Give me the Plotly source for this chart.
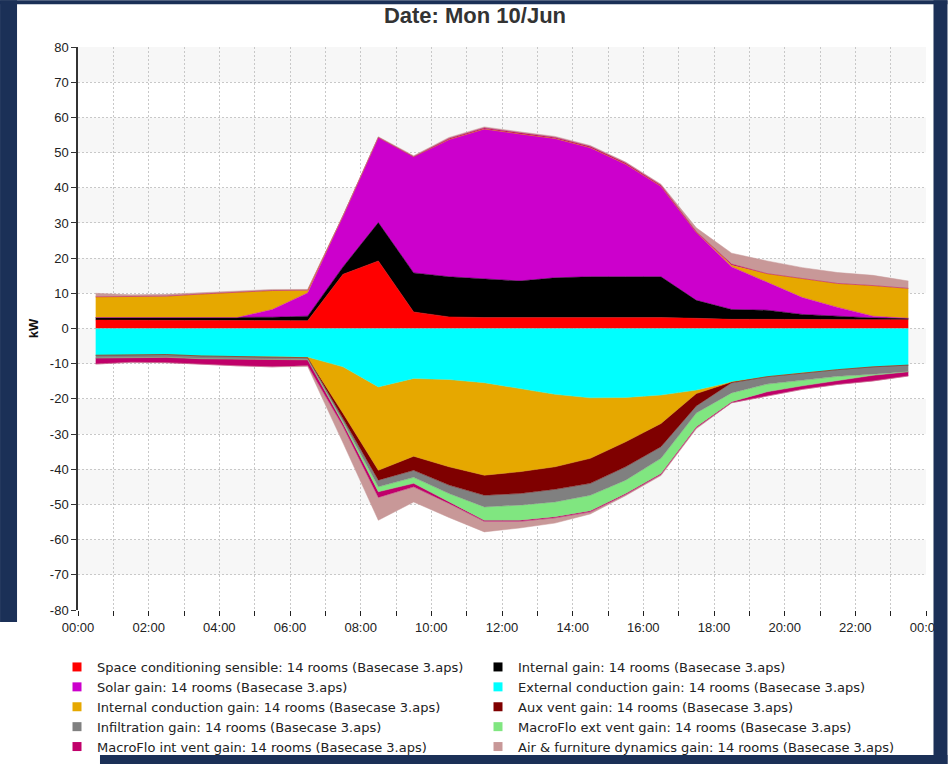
import plotly.graph_objects as go

# ---------------- data ----------------
TIMES = ["2024-06-10 %02d:30" % h for h in range(24)]

SERIES_NAMES = [
    "Space conditioning sensible: 14 rooms (Basecase 3.aps)",
    "Internal gain: 14 rooms (Basecase 3.aps)",
    "Solar gain: 14 rooms (Basecase 3.aps)",
    "External conduction gain: 14 rooms (Basecase 3.aps)",
    "Internal conduction gain: 14 rooms (Basecase 3.aps)",
    "Aux vent gain: 14 rooms (Basecase 3.aps)",
    "Infiltration gain: 14 rooms (Basecase 3.aps)",
    "MacroFlo ext vent gain: 14 rooms (Basecase 3.aps)",
    "MacroFlo int vent gain: 14 rooms (Basecase 3.aps)",
    "Air & furniture dynamics gain: 14 rooms (Basecase 3.aps)",
]
SERIES_COLORS = ["#ff0000", "#000000", "#cc00cc", "#00ffff", "#e6a800",
                 "#7f0000", "#808080", "#80e680", "#c0006a", "#c89898"]

# positive parts (kW)
SPACE_POS = [2.4, 2.4, 2.4, 2.4, 2.4, 2.4, 2.2, 15.4, 19.2, 4.7, 3.3, 3.1,
             3.1, 3.1, 3.1, 3.2, 3.1, 2.9, 2.6, 2.6, 2.5, 2.5, 2.5, 2.5]
INTERNAL_POS = [0.7, 0.7, 0.7, 0.7, 0.7, 0.8, 1.3, 2.1, 10.9, 11.1, 11.4, 11.1,
                10.4, 11.3, 11.6, 11.5, 11.6, 5.1, 2.8, 2.6, 1.5, 1.0, 0.5, 0.4]
SOLAR_POS = [0, 0, 0, 0, 0, 2.2, 6.6, 14.5, 24.2, 33.0, 39.0, 42.5,
             41.8, 39.6, 36.7, 32.0, 25.7, 19.3, 12.1, 8.0, 4.8, 2.5, 0.5, 0]
EXTCOND_POS = [0] * 24
INTCOND_POS = [5.9, 5.9, 6.1, 6.7, 7.2, 5.4, 0.8, 0, 0, 0, 0, 0,
               0, 0, 0, 0, 0, 0, 0.5, 2.4, 5.4, 6.8, 8.7, 8.5]
AUX_POS = [0] * 24
INFIL_POS = [0] * 24
MFEXT_POS = [0] * 24
MFINT_POS = [0, 0, 0, 0, 0, 0, 0, 0, 0, 0, 0.3, 0.3,
             0.3, 0.3, 0.3, 0.3, 0.3, 0.2, 0.3, 0, 0, 0, 0, 0]
AIR_POS = [1.0, 0.6, 0.5, 0.4, 0.3, 0.3, 0.2, 0, 0.2, 0.3, 0.3, 0.3,
           0.3, 0.3, 0.3, 0.3, 0.3, 1.1, 3.1, 3.6, 3.1, 3.1, 2.9, 2.1]

# negative parts (kW)
SPACE_NEG = [0] * 24
INTERNAL_NEG = [0] * 24
SOLAR_NEG = [0] * 24
EXTCOND_NEG = [-7.6, -7.4, -7.4, -7.8, -7.9, -8.0, -8.1, -10.9, -16.6, -14.2, -14.5, -15.4,
               -17.0, -18.7, -19.7, -19.6, -18.9, -17.5, -15.2, -13.7, -12.6, -11.7, -10.9, -10.4]
INTCOND_NEG = [0, 0, 0, 0, 0, 0, -0.2, -13.2, -23.7, -22.1, -24.8, -26.3,
               -23.7, -20.6, -17.2, -12.6, -8.1, -1.0, 0, 0, 0, 0, 0, 0]
AUX_NEG = [0, 0, 0, 0, 0, 0, 0, -1.5, -2.8, -4.0, -5.2, -5.7,
           -6.2, -6.4, -7.1, -7.1, -6.6, -3.5, -0.2, 0, 0, 0, 0, 0]
INFIL_NEG = [-0.8, -0.8, -0.8, -0.8, -0.8, -0.8, -0.6, -0.8, -1.9, -2.0, -2.4, -3.3,
             -3.3, -3.6, -3.4, -3.8, -3.3, -2.0, -2.9, -2.1, -2.1, -1.9, -2.1, -1.9]
MFEXT_NEG = [0, 0, 0, 0, 0, 0, 0, -0.5, -1.4, -1.7, -2.4, -3.8,
             -4.3, -4.2, -4.4, -3.8, -4.3, -3.9, -2.5, -2.2, -1.6, -1.1, -0.3, 0]
MFINT_NEG = [-1.7, -1.4, -1.5, -1.6, -1.9, -2.1, -1.6, -0.9, -1.6, -1.0, -0.4, -0.3,
             -0.3, -0.3, -0.3, -0.3, -0.3, -0.3, -0.3, -1.2, -1.0, -1.2, -1.6, -1.2]
AIR_NEG = [0, 0, 0, 0, 0, 0, -0.3, -4.7, -6.5, -4.3, -4.0, -3.0,
           -1.9, -1.5, -0.6, -0.3, -0.3, -0.3, 0, 0, 0, 0, 0, 0]

POS = [SPACE_POS, INTERNAL_POS, SOLAR_POS, EXTCOND_POS, INTCOND_POS,
       AUX_POS, INFIL_POS, MFEXT_POS, MFINT_POS, AIR_POS]
NEG = [SPACE_NEG, INTERNAL_NEG, SOLAR_NEG, EXTCOND_NEG, INTCOND_NEG,
       AUX_NEG, INFIL_NEG, MFEXT_NEG, MFINT_NEG, AIR_NEG]

Y_TICKS = list(range(-80, 81, 10))
Y_TICK_LABELS = [str(v) for v in Y_TICKS]
TITLE = "Date: Mon 10/Jun"
Y_TITLE = "kW"

# ---------------- figure ----------------
W, H = 948, 764
L, R, T, B = 78, 926.5, 46.7, 610.0
NAVY = "#1b3057"

fig = go.Figure()

for group, data in (("pos", POS), ("neg", NEG)):
    for name, col, vals in zip(SERIES_NAMES, SERIES_COLORS, data):
        if not any(vals):
            continue
        fig.add_trace(go.Scatter(
            x=TIMES, y=vals, stackgroup=group, mode="lines",
            line=dict(width=0.5, color=col), fillcolor=col,
            name=name, showlegend=False, hoverinfo="skip"))

for name, col in zip(SERIES_NAMES, SERIES_COLORS):
    fig.add_trace(go.Scatter(
        x=[None], y=[None], mode="markers", name=name,
        marker=dict(symbol="square", size=9, color=col)))


def px_x(p):
    return (p - L) / (R - L)


def px_y(p):
    return (B - p) / (B - T)


shapes = []
# alternating horizontal bands in plot area
for top in range(80, -80, -20):
    shapes.append(dict(type="rect", xref="paper", yref="y", x0=0, x1=1,
                       y0=top - 10, y1=top, fillcolor="#f7f7f7",
                       line=dict(width=0), layer="below"))
# dark window frame around the white panel
for (x0, y0, x1, y1) in [(0, 0, W, 4), (0, 0, 17, 622), (934, 0, W, H), (100, 755, W, H)]:
    shapes.append(dict(type="rect", xref="paper", yref="paper",
                       x0=px_x(x0), x1=px_x(x1), y0=px_y(y1), y1=px_y(y0),
                       fillcolor=NAVY, line=dict(width=0), layer="above"))

FONT = "Liberation Sans, Arial, sans-serif"
GRID = "#c8c8c8"
DASH = "2px,2px"

fig.update_layout(
    width=W, height=H,
    margin=dict(l=L, r=W - R, t=T, b=H - B, pad=0, autoexpand=False),
    paper_bgcolor="white", plot_bgcolor="white",
    font=dict(family=FONT, size=13, color="#222222"),
    title=dict(text="<b>%s</b>" % TITLE, x=475 / W, xanchor="center",
               y=1 - 15 / H, yanchor="middle",
               font=dict(size=22, color="#333333")),
    showlegend=True,
    legend=dict(orientation="h", xref="container", yref="container",
                x=57 / W, xanchor="left",
                y=1 - 652 / H, yanchor="top",
                entrywidth=376, entrywidthmode="pixels",
                font=dict(family="DejaVu Sans, Liberation Sans, sans-serif",
                          size=13, color="#222222"),
                bgcolor="rgba(0,0,0,0)", traceorder="normal"),
    shapes=shapes,
    xaxis=dict(
        type="date", range=["2024-06-10 00:00", "2024-06-11 00:00"],
        dtick=2 * 3600 * 1000, tick0="2024-06-10 00:00", tickformat="%H:%M",
        ticks="outside", ticklen=5, tickcolor="#222", tickwidth=1,
        showline=False, showgrid=True, gridcolor=GRID, griddash=DASH,
        gridwidth=1, zeroline=False,
        minor=dict(dtick=3600 * 1000, ticks="outside", ticklen=5, tickcolor="#222",
                   showgrid=True, gridcolor=GRID, griddash=DASH, gridwidth=1),
        tickfont=dict(size=13, color="#222")),
    yaxis=dict(
        range=[-80, 80], tickvals=Y_TICKS, ticktext=Y_TICK_LABELS,
        ticks="outside", ticklen=5,
        tickcolor="#333", showline=True, linecolor="#333", linewidth=1.5,
        showgrid=True, gridcolor=GRID, griddash=DASH, gridwidth=1,
        zeroline=False, tickfont=dict(size=13, color="#222"),
        title=dict(text="<b>%s</b>" % Y_TITLE, standoff=8,
                   font=dict(size=13, color="#111"))),
)

fig.write_html("out.html", config={"displayModeBar": False},
               post_script="document.body.style.margin='0';document.body.style.overflow='hidden';")
